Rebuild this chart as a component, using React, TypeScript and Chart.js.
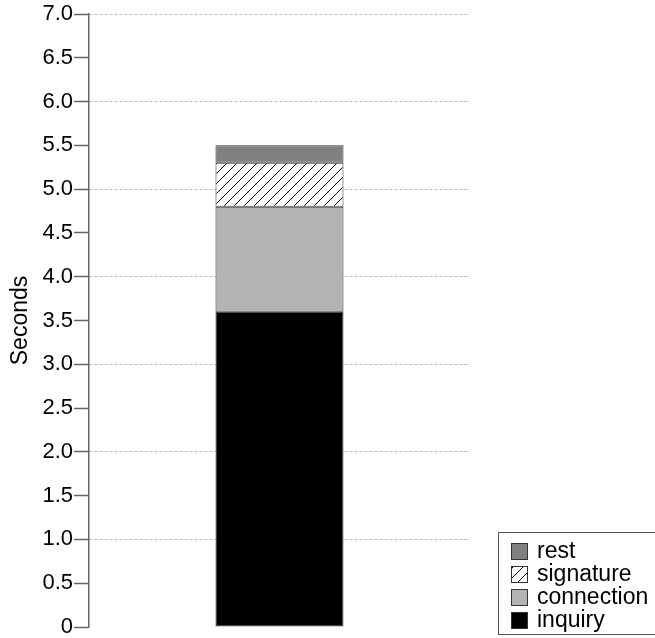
import React, { useEffect, useRef } from "react";
import { Chart, registerables } from "chart.js";

Chart.register(...registerables);

const categories = ["total"];
const seriesNames = ["inquiry", "connection", "signature", "rest"];
const inquiry = [3.6];
const connection = [1.2];
const signature = [0.5];
const rest = [0.2];
const legendOrder = ["rest", "signature", "connection", "inquiry"];

const FONT = "'Liberation Sans', Arial, Helvetica, sans-serif";

function makeHatch(): CanvasPattern | string {
  const c = document.createElement("canvas");
  c.width = 10;
  c.height = 10;
  const g = c.getContext("2d");
  if (!g) return "#fff";
  g.fillStyle = "#ffffff";
  g.fillRect(0, 0, 10, 10);
  g.strokeStyle = "#000";
  g.lineWidth = 1;
  g.beginPath();
  g.moveTo(-1, 11);
  g.lineTo(11, -1);
  g.moveTo(-6, 6);
  g.lineTo(6, -6);
  g.moveTo(4, 16);
  g.lineTo(16, 4);
  g.stroke();
  const p = g.createPattern(c, "repeat");
  return p || "#fff";
}

export default function App() {
  const ref = useRef<HTMLCanvasElement>(null);
  useEffect(() => {
    if (!ref.current) return;
    const hatch = makeHatch();
    const fills: Record<string, any> = {
      inquiry: "#000000",
      connection: "#b3b3b3",
      signature: hatch,
      rest: "#808080",
    };
    const values: Record<string, number[]> = { inquiry, connection, signature, rest };

    const legendPlugin = {
      id: "boxLegend",
      afterDraw(chart: any) {
        const ctx = chart.ctx;
        ctx.save();
        ctx.strokeStyle = "#555";
        ctx.lineWidth = 1;
        ctx.strokeRect(498.5, 532.5, 200, 102);
        ctx.font = `23px ${FONT}`;
        ctx.textBaseline = "alphabetic";
        ctx.textAlign = "left";
        legendOrder.forEach((name, i) => {
          const y = 543 + i * 23;
          ctx.fillStyle = fills[name];
          ctx.fillRect(511, y, 17, 17);
          ctx.strokeStyle = "#333";
          ctx.strokeRect(511.5, y + 0.5, 16, 16);
          ctx.fillStyle = "#000";
          ctx.fillText(name, 537, y + 15);
        });
        ctx.restore();
      },
    };

    const chart = new Chart(ref.current, {
      type: "bar",
      data: {
        labels: categories,
        datasets: seriesNames.map((n) => ({
          label: n,
          data: values[n],
          backgroundColor: fills[n],
          borderColor: "#333",
          borderWidth: 1,
          borderSkipped: false,
          barPercentage: 0.336,
          categoryPercentage: 1,
        })),
      },
      options: {
        animation: false,
        responsive: true,
        maintainAspectRatio: false,
        layout: { padding: { left: 0, right: 185, top: 14, bottom: 11 } },
        plugins: { legend: { display: false }, tooltip: { enabled: false } },
        scales: {
          x: { stacked: true, display: false },
          y: {
            stacked: true,
            min: 0,
            max: 7,
            afterFit(scale: any) {
              scale.width = 89;
              scale.paddingTop = 0;
              scale.paddingBottom = 0;
            },
            ticks: {
              stepSize: 0.5,
              padding: 1,
              color: "#000",
              font: { family: FONT, size: 22 },
              callback: (v: any) => (Number(v) === 0 ? "0" : Number(v).toFixed(1)),
            },
            grid: {
              color: (c: any) => {
                const v = c.tick ? c.tick.value : 0;
                return v !== 0 && Number.isInteger(v) ? "#bbbbbb" : "rgba(0,0,0,0)";
              },
              tickColor: "#666",
              tickLength: 15,
              lineWidth: 1,
              tickWidth: 1.5,
            },
            border: { display: true, color: "#666", width: 1.5, dash: [3, 2] },
            title: {
              display: true,
              text: "Seconds",
              color: "#000",
              font: { family: FONT, size: 23 },
              padding: { top: 7, bottom: 0 },
            },
          },
        },
      },
      plugins: [legendPlugin],
    });
    return () => chart.destroy();
  }, []);
  return (
    <div style={{ position: "fixed", left: 0, top: 0, width: 655, height: 638, background: "#fff" }}>
      <canvas ref={ref} />
    </div>
  );
}
